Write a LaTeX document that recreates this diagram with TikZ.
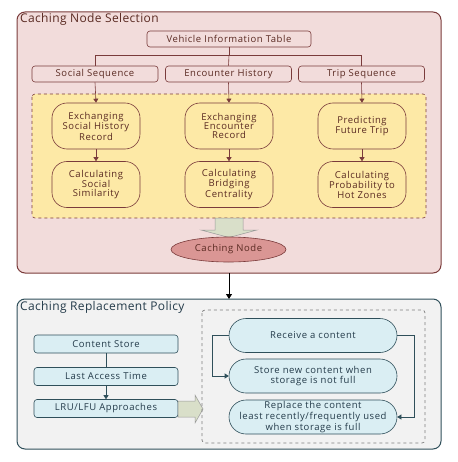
\documentclass[tikz,border=0pt]{standalone}
\usepackage{fontspec}
\setmainfont[LetterSpace=6]{Open Sans}
\newfontfamily\titlefont[LetterSpace=3]{Open Sans}
\usetikzlibrary{arrows.meta,shapes.geometric,shapes.misc}
\definecolor{pinkbg}{HTML}{F2DCDB}
\definecolor{brownln}{HTML}{7A3B3B}
\definecolor{browntx}{HTML}{5A2A22}
\definecolor{yellowbg}{HTML}{FDE9A6}
\definecolor{cnode}{HTML}{DA9694}
\definecolor{grayarrow}{HTML}{D9DFC9}
\definecolor{graybg}{HTML}{F2F2F2}
\definecolor{slateln}{HTML}{2F4F5A}
\definecolor{bluebg}{HTML}{DAEEF3}
\definecolor{bluetx}{HTML}{243B4A}
\begin{document}
\begin{tikzpicture}[x=1pt,y=-1pt,
  panel/.style={draw, line width=1pt, rounded corners=8pt},
  topbox/.style={draw=brownln, fill=pinkbg, rounded corners=3pt, line width=0.6pt, minimum height=16pt, minimum width=126pt, text=browntx, font=\fontsize{9.5}{10}\selectfont, inner sep=1pt},
  proc/.style={draw=brownln, fill=yellowbg, rounded corners=15pt, line width=0.6pt, minimum height=46pt, minimum width=88pt, text=browntx, font=\fontsize{9.5}{9.4}\selectfont, align=center, inner sep=1pt},
  lbox/.style={draw=slateln, fill=bluebg, rounded corners=3pt, line width=0.6pt, minimum height=18pt, minimum width=144pt, text=bluetx, font=\fontsize{9.5}{10}\selectfont, inner sep=1pt},
  stad/.style={draw=slateln, fill=bluebg, rounded rectangle, line width=0.6pt, minimum height=34pt, minimum width=170pt, text=bluetx, font=\fontsize{9.5}{9.2}\selectfont, align=center, inner sep=1pt},
  tarr/.style={draw=brownln, line width=0.6pt, -{Triangle[length=4pt,width=5pt]}},
  barr/.style={draw=slateln, line width=0.6pt, -{Triangle[length=4pt,width=5pt]}},
  blockarrow/.style={draw=gray!80, fill=grayarrow, line width=0.5pt},
  title/.style={anchor=west, font=\titlefont\fontsize{12}{13}\selectfont, inner sep=0pt}
]
\useasboundingbox (0,0) rectangle (457,462);
% top panel
\draw[panel, draw=brownln, fill=pinkbg] (17,12) rectangle (441,273);
\node[title, text=browntx] (t1) at (20,19) {Caching Node Selection};
\draw[draw=brownln, fill=yellowbg, dashed, line width=0.6pt, rounded corners=3pt] (32,94) rectangle (426,218);

\node[topbox, minimum width=164pt] (vit) at (229,39) {Vehicle Information Table};
\node[topbox] (ss) at (95,74) {Social Sequence};
\node[topbox] (eh) at (228.5,74) {Encounter History};
\node[topbox] (ts) at (361.5,74) {Trip Sequence};
\coordinate (j1) at (229,55);
\draw[brownln, line width=0.6pt] (vit.south) -- (j1) -| (ss.north);
\draw[brownln, line width=0.6pt] (j1) -| (ts.north);
\draw[brownln, line width=0.6pt] (j1) -- (eh.north);

\node[proc] (p1) at (96,126) {Exchanging\\Social History\\Record};
\node[proc] (p2) at (229,126) {Exchanging\\Encounter\\Record};
\node[proc] (p3) at (362,126) {Predicting\\Future Trip};
\node[proc] (q1) at (96,184.5) {Calculating\\Social\\Similarity};
\node[proc] (q2) at (229,184.5) {Calculating\\Bridging\\Centrality};
\node[proc] (q3) at (362,184.5) {Calculating\\Probability to\\Hot Zones};
\draw[tarr] (ss.south) -- (p1.north);
\draw[tarr] (eh.south) -- (p2.north);
\draw[tarr] (ts.south) -- (p3.north);
\draw[tarr] (p1.south) -- (q1.north);
\draw[tarr] (p2.south) -- (q2.north);
\draw[tarr] (p3.south) -- (q3.north);

\draw[blockarrow] (215,218) -- (243,218) -- (243,230) -- (257,230) -- (229,237.5) -- (201,230) -- (215,230) -- cycle;
\node[ellipse, draw=brownln, fill=cnode, line width=0.6pt, minimum width=115pt, minimum height=25pt, inner sep=0pt, text=browntx, font=\fontsize{9.5}{10}\selectfont] (cn) at (228.5,249.5) {Caching Node};

% bottom panel
\draw[panel, draw=slateln, fill=graybg] (17,299) rectangle (441,449);
\node[title, text=bluetx] (t2) at (20,307) {Caching Replacement Policy};
\coordinate (topb) at (229,273);
\coordinate (botb) at (229,299);
\draw[line width=0.8pt, -{Triangle[length=5pt,width=6pt]}] (topb) -- (botb);

\node[lbox] (cs) at (106,344) {Content Store};
\node[lbox] (lat) at (106,376.5) {Last Access Time};
\node[lbox] (lru) at (106,408.5) {LRU/LFU Approaches};
\draw[slateln, line width=0.6pt] (cs.south) -- (lat.north);
\draw[barr] (lat.south) -- (lru.north);

\draw[blockarrow] (178,401) -- (195,401) -- (195,395) -- (203,409) -- (195,423) -- (195,417) -- (178,417) -- cycle;

\draw[draw=gray, dashed, line width=0.7pt, rounded corners=3pt] (202,310) rectangle (425,443);
\node[stad] (rc) at (313,335.5) {Receive a content};
\node[stad] (sn) at (313,376) {Store new content when\\storage is not full};
\node[stad] (rp) at (313,417) {Replace the content\\least recently/frequently used\\when storage is full};
\draw[barr] (rc.west) -- ++(-16,0) |- (sn.west);
\draw[barr] (rc.east) -- ++(17,0) |- (rp.east);
\end{tikzpicture}
\end{document}
